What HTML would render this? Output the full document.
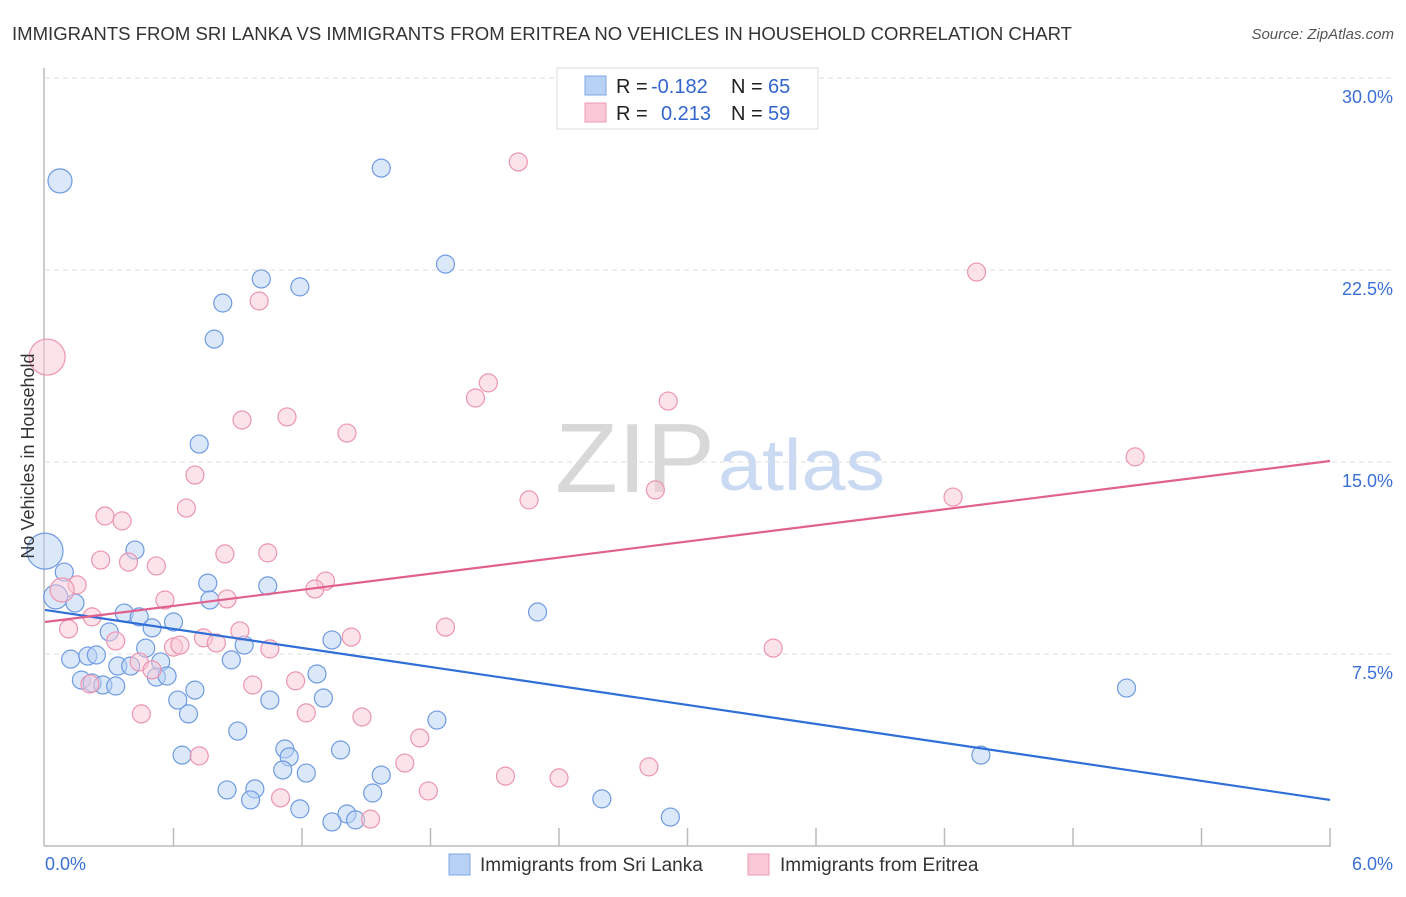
<!DOCTYPE html>
<html><head><meta charset="utf-8"><style>
body{margin:0;background:#fff;font-family:"Liberation Sans",sans-serif}
svg text{font-family:"Liberation Sans",sans-serif}
</style></head><body>
<svg id="c" width="1406" height="892" xmlns="http://www.w3.org/2000/svg">
<text x="12" y="40" font-size="18" fill="#333" textLength="1060" lengthAdjust="spacingAndGlyphs">IMMIGRANTS FROM SRI LANKA VS IMMIGRANTS FROM ERITREA NO VEHICLES IN HOUSEHOLD CORRELATION CHART</text>
<text x="1394" y="39" font-size="15" fill="#555" font-style="italic" text-anchor="end">Source: ZipAtlas.com</text>
<text x="555" y="492" font-size="98" fill="#d8d8d8" font-family="Liberation Serif" textLength="160" lengthAdjust="spacingAndGlyphs">ZIP</text>
<text x="718" y="490" font-size="72" fill="#c9daf2" textLength="167" lengthAdjust="spacingAndGlyphs">atlas</text>
<g id="grid"></g><g id="axes"></g><g id="pts"></g><g id="trend"></g>
<text x="34" y="456" font-size="18" fill="#333" text-anchor="middle" transform="rotate(-90 34 456)">No Vehicles in Household</text>
<g>
<rect x="557" y="68" width="261" height="61" fill="#fff" stroke="#ddd"/>
<rect x="585" y="76" width="21" height="19" fill="#b8d2f5" stroke="#7fa6e6"/>
<rect x="585" y="103" width="21" height="19" fill="#fac8d6" stroke="#ee9ab2"/>
<text x="616" y="93" font-size="20" fill="#222">R =</text>
<text x="651" y="93" font-size="20" fill="#3366cc">-0.182</text>
<text x="731" y="93" font-size="20" fill="#222">N =</text>
<text x="768" y="93" font-size="20" fill="#3366cc">65</text>
<text x="616" y="120" font-size="20" fill="#222">R =</text>
<text x="661" y="120" font-size="20" fill="#3366cc">0.213</text>
<text x="731" y="120" font-size="20" fill="#222">N =</text>
<text x="768" y="120" font-size="20" fill="#3366cc">59</text>
</g>
<g>
<rect x="449" y="854" width="21" height="21" fill="#b8d2f5" stroke="#7fa6e6"/>
<text x="480" y="871" font-size="19" fill="#333">Immigrants from Sri Lanka</text>
<rect x="748" y="854" width="21" height="21" fill="#fac8d6" stroke="#ee9ab2"/>
<text x="780" y="871" font-size="19" fill="#333">Immigrants from Eritrea</text>
</g>
</svg>
<script>
const yTicks=[7.5,15,22.5,30];
const yTickLabels=["7.5%","15.0%","22.5%","30.0%"];
const xTickCount=10;
const xTickLabels=["0.0%","6.0%"];
const blueX=[0.07,0.00,1.57,1.87,1.01,1.19,0.83,0.79,0.72,0.42,0.09,0.76,1.04,0.05,0.14,0.77,0.37,0.44,0.50,0.60,0.30,0.47,0.93,1.34,0.12,0.20,0.24,0.34,0.40,0.54,0.87,0.52,0.57,1.27,0.17,0.22,0.27,0.33,0.70,0.62,1.05,1.30,0.67,1.83,0.90,0.64,1.12,1.14,1.38,1.11,1.22,1.57,0.85,0.98,0.96,1.53,1.19,1.41,1.34,1.45,2.30,2.60,2.92,5.05,4.37];
const blueY=[25.98,11.52,26.48,22.73,22.15,21.84,21.21,19.80,15.70,11.56,10.70,10.27,10.16,9.73,9.49,9.61,9.10,8.95,8.52,8.75,8.36,7.73,7.85,8.05,7.30,7.42,7.46,7.03,7.03,7.19,7.27,6.60,6.64,6.72,6.48,6.37,6.29,6.25,6.09,5.70,5.70,5.78,5.16,4.92,4.49,3.55,3.79,3.48,3.75,2.97,2.85,2.77,2.19,2.23,1.80,2.07,1.45,1.25,0.94,1.02,9.14,1.84,1.13,6.17,3.55];
const blueR={0:12,1:18,13:12};
const pinkX=[0.01,2.21,4.35,1.00,2.07,2.01,2.91,1.13,0.92,1.41,0.70,5.09,2.85,2.26,4.24,0.66,0.28,0.36,0.84,1.04,0.26,0.39,0.52,1.31,0.15,0.08,1.26,0.56,0.85,0.22,0.11,1.87,1.43,0.91,0.74,0.80,0.33,1.05,3.40,0.60,0.63,0.44,0.50,1.17,0.97,0.21,0.45,1.22,1.48,1.75,0.72,1.68,2.15,2.40,2.82,1.79,1.10,1.52];
const pinkY=[19.10,26.72,22.42,21.29,18.09,17.50,17.38,16.76,16.64,16.13,14.49,15.20,13.91,13.52,13.63,13.20,12.89,12.70,11.41,11.45,11.17,11.09,10.94,10.35,10.20,10.00,10.04,9.61,9.65,8.95,8.48,8.55,8.16,8.40,8.13,7.93,8.01,7.70,7.73,7.77,7.85,7.19,6.88,6.45,6.29,6.33,5.16,5.20,5.04,4.22,3.52,3.24,2.73,2.66,3.09,2.15,1.88,1.05];
const pinkR={0:18,25:12};
const blueTrend=[9.22,1.80];
const pinkTrend=[8.75,15.04];
const X0=45,X1=1330,Y0=846,Y1=78;
const xs=v=>X0+(v/6)*(X1-X0);
const ys=v=>Y0-(v/30)*(Y0-Y1);
const NS="http://www.w3.org/2000/svg";
function mk(t,a,p){const e=document.createElementNS(NS,t);for(const k in a)e.setAttribute(k,a[k]);p.appendChild(e);return e;}
const grid=document.getElementById('grid'),axes=document.getElementById('axes'),pts=document.getElementById('pts'),trend=document.getElementById('trend');
yTicks.forEach((t,i)=>{
 const l=mk('line',{x1:45,x2:1395,y1:ys(t),y2:ys(t),stroke:'#ddd','stroke-dasharray':'5,4'},grid);
 
 
 const tx=mk('text',{x:1393,y:ys(t)+25,'font-size':18,fill:'#3b6fd4','text-anchor':'end'},grid);
 tx.textContent=yTickLabels[i];
 
 
});
const ya=mk('line',{x1:44,x2:44,y1:68,y2:846,stroke:'#bbb','stroke-width':1.5},axes);


const xa=mk('line',{x1:44,x2:1331,y1:846,y2:846,stroke:'#bbb','stroke-width':1.5},axes);


for(let i=1;i<=xTickCount;i++){
 const v=6*i/xTickCount;
 const t=mk('line',{x1:xs(v),x2:xs(v),y1:828,y2:846,stroke:'#bbb','stroke-width':1.5},axes);
 
 
}
[[0,'start',45],[6,'end',1393]].forEach((d,i)=>{
 const t=mk('text',{x:d[2],y:870,'font-size':18,fill:'#3b6fd4','text-anchor':d[1]},axes);
 t.textContent=xTickLabels[i];
 
 
});
function dots(X,Y,R,fill,stroke,name){
 X.forEach((x,i)=>{
  const c=mk('circle',{cx:xs(x),cy:ys(Y[i]),r:R[i]||9,fill:fill,'fill-opacity':0.5,stroke:stroke,'stroke-width':1.2},pts);
  
  
 });
}
dots(blueX,blueY,blueR,'#b8d2f5','#6f9be0','sri-lanka-point');
dots(pinkX,pinkY,pinkR,'#fac8d6','#ec95b0','eritrea-point');
const bl=mk('line',{x1:xs(0),y1:ys(blueTrend[0]),x2:xs(6),y2:ys(blueTrend[1]),stroke:'#2f6fd6','stroke-width':2.2},trend);


const pl=mk('line',{x1:xs(0),y1:ys(pinkTrend[0]),x2:xs(6),y2:ys(pinkTrend[1]),stroke:'#e0608e','stroke-width':2.2},trend);


</script>
</body></html>
